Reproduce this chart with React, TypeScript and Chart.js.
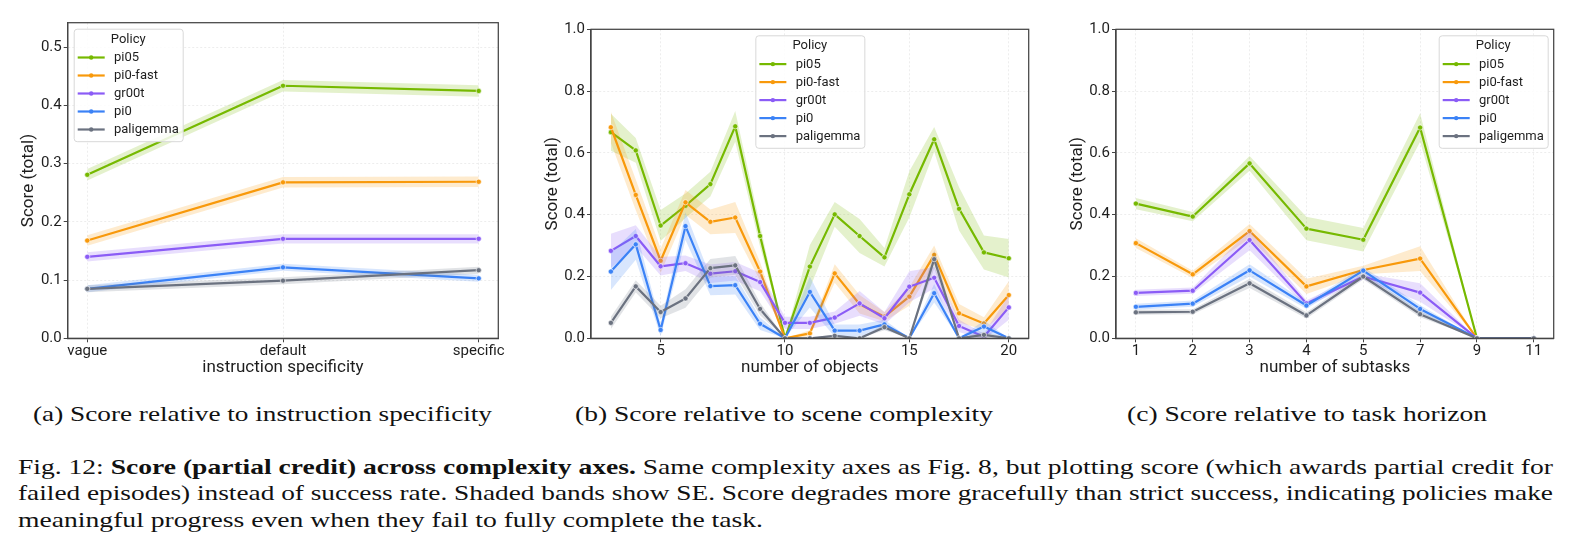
import React, { useEffect, useLayoutEffect, useRef } from 'react';
import { Chart, registerables } from 'chart.js';

Chart.register(...registerables);

// ---- shared series info ----
const policies = ['pi05', 'pi0-fast', 'gr00t', 'pi0', 'paligemma'];
const policyColors = ['#76b900', '#f8990b', '#8b5cf6', '#3b82f6', '#6b7280'];

// ---- (a) instruction specificity ----
const specificityLabels = ['vague', 'default', 'specific'];
const specificityMean = [
  [0.281, 0.434, 0.425],
  [0.168, 0.268, 0.269],
  [0.140, 0.171, 0.171],
  [0.085, 0.122, 0.103],
  [0.085, 0.099, 0.117],
];
const specificitySE = [
  [0.010, 0.010, 0.010],
  [0.009, 0.009, 0.009],
  [0.008, 0.008, 0.008],
  [0.006, 0.006, 0.006],
  [0.006, 0.006, 0.006],
];
const specificityYTicks = [0, 0.1, 0.2, 0.3, 0.4, 0.5];

// ---- (b) scene complexity ----
const objectCounts = ['3', '4', '5', '6', '7', '8', '9', '10', '11', '12', '13', '14', '15', '16', '17', '18', '20'];
const objectTickLabels = ['5', '10', '15', '20'];
const objectsMean = [
  [0.667, 0.608, 0.365, 0.429, 0.499, 0.686, 0.331, 0.000, 0.232, 0.401, 0.331, 0.262, 0.466, 0.644, 0.419, 0.278, 0.259],
  [0.683, 0.464, 0.251, 0.440, 0.377, 0.391, 0.216, 0.000, 0.016, 0.210, 0.110, 0.070, 0.135, 0.270, 0.081, 0.048, 0.140],
  [0.283, 0.331, 0.233, 0.243, 0.209, 0.217, 0.182, 0.050, 0.050, 0.067, 0.113, 0.065, 0.167, 0.196, 0.040, 0.005, 0.100],
  [0.216, 0.304, 0.027, 0.363, 0.169, 0.172, 0.047, 0.000, 0.150, 0.025, 0.025, 0.045, 0.000, 0.146, 0.000, 0.038, 0.000],
  [0.050, 0.168, 0.085, 0.129, 0.227, 0.236, 0.095, 0.000, 0.000, 0.008, 0.000, 0.036, 0.000, 0.256, 0.000, 0.011, 0.000],
];
const objectsSE = [
  [0.060, 0.040, 0.050, 0.040, 0.040, 0.050, 0.035, 0.000, 0.070, 0.040, 0.055, 0.030, 0.075, 0.040, 0.070, 0.055, 0.062],
  [0.050, 0.050, 0.040, 0.040, 0.040, 0.050, 0.030, 0.000, 0.010, 0.030, 0.030, 0.015, 0.030, 0.030, 0.030, 0.020, 0.045],
  [0.055, 0.035, 0.030, 0.025, 0.030, 0.030, 0.030, 0.020, 0.020, 0.020, 0.040, 0.020, 0.050, 0.035, 0.020, 0.010, 0.040],
  [0.060, 0.050, 0.020, 0.045, 0.030, 0.030, 0.020, 0.000, 0.050, 0.020, 0.020, 0.015, 0.000, 0.030, 0.000, 0.020, 0.000],
  [0.020, 0.020, 0.020, 0.030, 0.030, 0.030, 0.020, 0.000, 0.000, 0.005, 0.000, 0.010, 0.000, 0.030, 0.000, 0.010, 0.000],
];

// ---- (c) task horizon ----
const subtaskCounts = ['1', '2', '3', '4', '5', '7', '9', '11'];
const subtasksMean = [
  [0.436, 0.394, 0.566, 0.355, 0.319, 0.682, 0.000, 0.000],
  [0.308, 0.207, 0.347, 0.168, 0.221, 0.258, 0.000, 0.000],
  [0.147, 0.154, 0.318, 0.113, 0.200, 0.148, 0.000, 0.000],
  [0.102, 0.112, 0.220, 0.106, 0.219, 0.095, 0.000, 0.000],
  [0.084, 0.086, 0.178, 0.074, 0.200, 0.078, 0.000, 0.000],
];
const subtasksSE = [
  [0.018, 0.015, 0.024, 0.038, 0.038, 0.046, 0.000, 0.000],
  [0.016, 0.012, 0.023, 0.025, 0.014, 0.040, 0.000, 0.000],
  [0.010, 0.010, 0.033, 0.010, 0.010, 0.030, 0.000, 0.000],
  [0.010, 0.010, 0.020, 0.010, 0.012, 0.012, 0.000, 0.000],
  [0.008, 0.008, 0.015, 0.010, 0.010, 0.010, 0.000, 0.000],
];
const unitYTicks = [0, 0.2, 0.4, 0.6, 0.8, 1.0];

const SANS = 'Roboto, "Noto Sans", sans-serif';
const SERIF = '"Liberation Serif", Tinos, "Times New Roman", Times, serif';
const INK = '#1e1e1e';
const SPINE = '#454545';
const TITLE_SIZE = 17;

function withAlpha(hex: string, a: number) {
  const n = parseInt(hex.slice(1), 16);
  return `rgba(${(n >> 16) & 255}, ${(n >> 8) & 255}, ${n & 255}, ${a})`;
}

// frame on all four sides of the plotting area
const axesFrame = {
  id: 'axesFrame',
  afterDatasetsDraw(chart: any) {
    const { ctx, chartArea: a } = chart;
    ctx.save();
    ctx.strokeStyle = SPINE;
    ctx.lineWidth = 1.25;
    ctx.strokeRect(a.left, a.top, a.right - a.left, a.bottom - a.top);
    ctx.restore();
  },
};

// "Policy" legend box drawn inside the plotting area
const policyLegend = {
  id: 'policyLegend',
  afterDraw(chart: any, _args: any, opts: any) {
    const { ctx, chartArea: a } = chart;
    const w = 109;
    const h = 112.5;
    const inset = 6;
    const left =
      opts.align === 'left' ? a.left + inset :
      opts.align === 'right' ? a.right - inset - w :
      (a.left + a.right) / 2 - w / 2;
    const top = a.top + inset;
    ctx.save();
    ctx.beginPath();
    ctx.roundRect(left + 0.5, top + 0.5, w, h, 3);
    ctx.fillStyle = 'rgba(255,255,255,0.85)';
    ctx.fill();
    ctx.strokeStyle = '#d8d8d8';
    ctx.lineWidth = 1;
    ctx.stroke();
    ctx.font = `13px ${SANS}`;
    ctx.textBaseline = 'middle';
    ctx.textAlign = 'center';
    ctx.fillStyle = INK;
    ctx.fillText('Policy', left + w / 2, top + 10.8);
    ctx.textAlign = 'left';
    policies.forEach((name, i) => {
      const y = top + 28.8 + 18 * i;
      ctx.strokeStyle = policyColors[i];
      ctx.lineWidth = 2.2;
      ctx.beginPath();
      ctx.moveTo(left + 4, y);
      ctx.lineTo(left + 31, y);
      ctx.stroke();
      ctx.fillStyle = policyColors[i];
      ctx.beginPath();
      ctx.arc(left + 17.5, y, 2.2, 0, Math.PI * 2);
      ctx.fill();
      ctx.fillStyle = INK;
      ctx.fillText(name, left + 40.3, y + 0.5);
    });
    ctx.restore();
  },
};

function buildDatasets(means: number[][], ses: number[][]) {
  const out: any[] = [];
  means.forEach((m, k) => {
    const color = policyColors[k];
    const base = (policies.length - k) * 10;
    out.push({
      label: `${policies[k]} upper`,
      data: m.map((v, i) => ({ x: i, y: v + ses[k][i] })),
      borderColor: 'transparent',
      borderWidth: 0,
      pointRadius: 0,
      backgroundColor: withAlpha(color, 0.2),
      fill: '+1',
      order: base + 2,
    });
    out.push({
      label: `${policies[k]} lower`,
      data: m.map((v, i) => ({ x: i, y: v - ses[k][i] })),
      borderColor: 'transparent',
      borderWidth: 0,
      pointRadius: 0,
      fill: false,
      order: base + 1,
    });
    out.push({
      label: policies[k],
      data: m.map((v, i) => ({ x: i, y: v })),
      borderColor: color,
      backgroundColor: color,
      borderWidth: 2.2,
      borderJoinStyle: 'round',
      borderCapStyle: 'round',
      pointRadius: 2.6,
      pointBackgroundColor: color,
      pointBorderColor: '#ffffff',
      pointBorderWidth: 0.6,
      fill: false,
      order: base,
    });
  });
  return out;
}

interface PanelProps {
  left: number;
  width: number;
  height: number;
  area: { left: number; top: number; right: number; bottom: number };
  means: number[][];
  ses: number[][];
  categories: string[];
  shownTicks: string[];
  yMax: number;
  yTicks: number[];
  xTitle: string;
  yTitleX: number;
  legendAlign: 'left' | 'center' | 'right';
}

function Panel(p: PanelProps) {
  const ref = useRef<HTMLCanvasElement>(null);
  useEffect(() => {
    if (!ref.current) return;
    const n = p.categories.length;
    const margin = (n - 1) * 0.05;
    const tickIdx = p.shownTicks.map((t) => p.categories.indexOf(t));
    const tickFont = { family: SANS, size: 15 };
    const titleFont = { family: SANS, size: TITLE_SIZE };
    const half = (TITLE_SIZE * 1.2) / 2;
    const gridCommon = {
      color: '#ebebeb',
      lineWidth: 0.9,
      tickLength: 4,
      tickColor: SPINE,
      tickWidth: 1,
    };
    const border = { display: true, color: SPINE, width: 1.25, dash: [2, 2] };
    const chart = new Chart(ref.current, {
      type: 'line',
      data: { datasets: buildDatasets(p.means, p.ses) },
      plugins: [axesFrame, policyLegend],
      options: {
        animation: false,
        responsive: false,
        events: [],
        layout: {
          padding: { left: 0, top: p.area.top, right: p.width - p.area.right, bottom: 0 },
        },
        elements: { line: { tension: 0 } },
        plugins: {
          legend: { display: false },
          tooltip: { enabled: false },
          policyLegend: { align: p.legendAlign },
        } as any,
        scales: {
          x: {
            type: 'linear',
            min: -margin,
            max: n - 1 + margin,
            afterBuildTicks: (s: any) => {
              s.ticks = tickIdx.map((v) => ({ value: v }));
            },
            afterFit: (s: any) => {
              s.height = p.height - p.area.bottom;
              s.paddingLeft = 0;
              s.paddingRight = 0;
            },
            ticks: {
              autoSkip: false,
              maxRotation: 0,
              padding: 0,
              color: INK,
              font: tickFont,
              callback: (v: any) => p.categories[Math.round(Number(v))] ?? '',
            },
            grid: gridCommon,
            border,
            title: {
              display: true,
              text: p.xTitle,
              color: INK,
              font: titleFont,
              padding: { top: 0, bottom: 22 - half },
            },
          },
          y: {
            type: 'linear',
            min: 0,
            max: p.yMax,
            afterBuildTicks: (s: any) => {
              s.ticks = p.yTicks.map((v) => ({ value: v }));
            },
            afterFit: (s: any) => {
              s.width = p.area.left;
              s.paddingTop = 0;
              s.paddingBottom = 0;
            },
            ticks: {
              padding: 2,
              color: INK,
              font: tickFont,
              callback: (v: any) => Number(v).toFixed(1),
            },
            grid: gridCommon,
            border,
            title: {
              display: true,
              text: 'Score (total)',
              color: INK,
              font: titleFont,
              padding: { top: p.yTitleX - half, bottom: 0 },
            },
          },
        },
      } as any,
    });
    return () => chart.destroy();
  }, []);
  return (
    <canvas
      ref={ref}
      width={p.width}
      height={p.height}
      style={{ position: 'absolute', left: p.left, top: 0, width: p.width, height: p.height }}
    />
  );
}

// one line of caption text, stretched to span a given width
function FitText(props: { left: number; top: number; width: number; size: number; children: React.ReactNode }) {
  const ref = useRef<HTMLDivElement>(null);
  useLayoutEffect(() => {
    const el = ref.current;
    if (!el) return;
    el.style.transform = 'none';
    const natural = el.getBoundingClientRect().width;
    if (natural > 0) el.style.transform = `scaleX(${props.width / natural})`;
  }, [props.width]);
  return (
    <div
      ref={ref}
      style={{
        position: 'absolute',
        left: props.left,
        top: props.top,
        whiteSpace: 'nowrap',
        fontFamily: SERIF,
        fontSize: props.size,
        lineHeight: 1,
        color: '#111',
        transformOrigin: '0 0',
      }}
    >
      {props.children}
    </div>
  );
}

export default function App() {
  return (
    <div style={{ position: 'absolute', left: 0, top: 0, width: 1575, height: 555, background: '#fff', overflow: 'hidden' }}>
      <Panel
        left={0}
        width={520}
        height={390}
        area={{ left: 67.7, top: 22.7, right: 498.3, bottom: 338.3 }}
        means={specificityMean}
        ses={specificitySE}
        categories={specificityLabels}
        shownTicks={specificityLabels}
        yMax={0.5423}
        yTicks={specificityYTicks}
        xTitle="instruction specificity"
        yTitleX={28.3}
        legendAlign="left"
      />
      <Panel
        left={520}
        width={530}
        height={390}
        area={{ left: 71, top: 29.3, right: 508.7, bottom: 338.3 }}
        means={objectsMean}
        ses={objectsSE}
        categories={objectCounts}
        shownTicks={objectTickLabels}
        yMax={1}
        yTicks={unitYTicks}
        xTitle="number of objects"
        yTitleX={32.8}
        legendAlign="center"
      />
      <Panel
        left={1045}
        width={530}
        height={390}
        area={{ left: 71, top: 29.3, right: 508.7, bottom: 338.3 }}
        means={subtasksMean}
        ses={subtasksSE}
        categories={subtaskCounts}
        shownTicks={subtaskCounts}
        yMax={1}
        yTicks={unitYTicks}
        xTitle="number of subtasks"
        yTitleX={32.8}
        legendAlign="right"
      />

      <FitText left={33} top={404} width={459} size={21}>(a) Score relative to instruction specificity</FitText>
      <FitText left={575} top={404} width={418} size={21}>(b) Score relative to scene complexity</FitText>
      <FitText left={1127} top={404} width={360} size={21}>(c) Score relative to task horizon</FitText>

      <FitText left={18} top={455.5} width={1535} size={22}>
        Fig. 12: <b>Score (partial credit) across complexity axes.</b> Same complexity axes as Fig. 8, but plotting score (which awards partial credit for
      </FitText>
      <FitText left={18} top={482} width={1535} size={22}>
        failed episodes) instead of success rate. Shaded bands show SE. Score degrades more gracefully than strict success, indicating policies make
      </FitText>
      <FitText left={18} top={508.5} width={745} size={22}>
        meaningful progress even when they fail to fully complete the task.
      </FitText>
    </div>
  );
}
